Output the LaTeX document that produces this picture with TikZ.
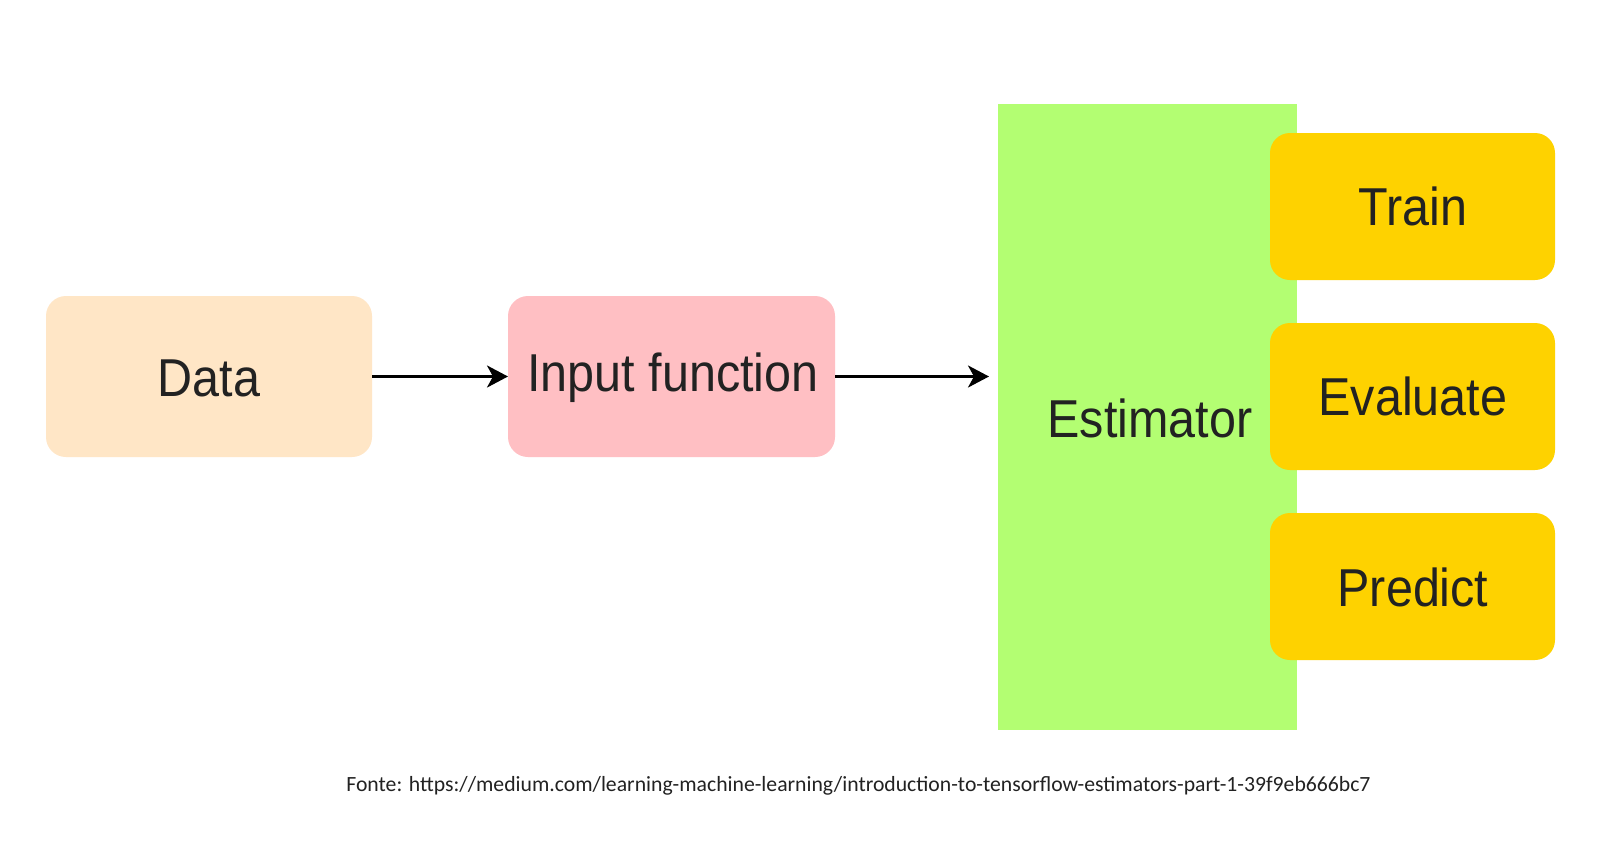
\documentclass[tikz,border=0pt]{standalone}
\usepackage{fontspec}
\setmainfont{Liberation Sans}
\newfontfamily\capfont{Carlito}
\usetikzlibrary{arrows.meta}
\definecolor{datafill}{HTML}{FFE6C6}
\definecolor{inpfill}{HTML}{FFBFC3}
\definecolor{estfill}{HTML}{B3FE72}
\definecolor{opfill}{HTML}{FED200}
\definecolor{txt}{HTML}{222222}
\tikzset{
  bigtext/.style={text=txt,font=\fontsize{48.5}{55}\selectfont},
  roundbox/.style={rounded corners=20pt,inner sep=0pt,outer sep=0pt},
  flow/.style={line width=2.8pt,-{Stealth[length=21pt,width=22pt,inset=6pt]}},
}
\newcommand{\tallt}[1]{\scalebox{1}[1.1]{#1}}
\begin{document}
\begin{tikzpicture}[x=1pt,y=-1pt]
\useasboundingbox (0,0) rectangle (1600,863);
\fill[white] (0,0) rectangle (1600,863);
% boxes
\node[roundbox,fill=datafill,minimum width=326pt,minimum height=161pt] (data) at (209,376.5) {};
\node[roundbox,fill=inpfill,minimum width=327pt,minimum height=161pt] (inp) at (671.5,376.5) {};
\node[fill=estfill,inner sep=0pt,outer sep=0pt,minimum width=299pt,minimum height=626pt] (est) at (1147.5,417) {};
\node[roundbox,fill=opfill,minimum width=285pt,minimum height=147pt] (train) at (1412.5,206.5) {};
\node[roundbox,fill=opfill,minimum width=285pt,minimum height=147pt] (eval) at (1412.5,396.5) {};
\node[roundbox,fill=opfill,minimum width=285pt,minimum height=147pt] (pred) at (1412.5,586.5) {};
% texts
\node[bigtext] (datat) at (209,378) {\tallt{Data}};
\node[bigtext] (inpt) at (673,378) {\tallt{Input function}};
\node[bigtext] (estt) at (1150,418) {\tallt{Estimator}};
\node[bigtext] (traint) at (1413,206) {\tallt{Train}};
\node[bigtext] (evalt) at (1413,396) {\tallt{Evaluate}};
\node[bigtext] (predt) at (1413,587) {\tallt{Predict}};
% arrows
\draw[flow] (data.east) -- (inp.west);
\draw[flow,shorten >=9pt] (inp.east) -- (inp.east -| est.west);
% caption
\node[text=txt,font=\capfont\fontsize{21.7}{26}\selectfont] (cap) at (858.5,786) {Fonte: https://medium.com/learning-machine-learning/introduction-to-tensorflow-estimators-part-1-39f9eb666bc7};
\end{tikzpicture}
\end{document}
